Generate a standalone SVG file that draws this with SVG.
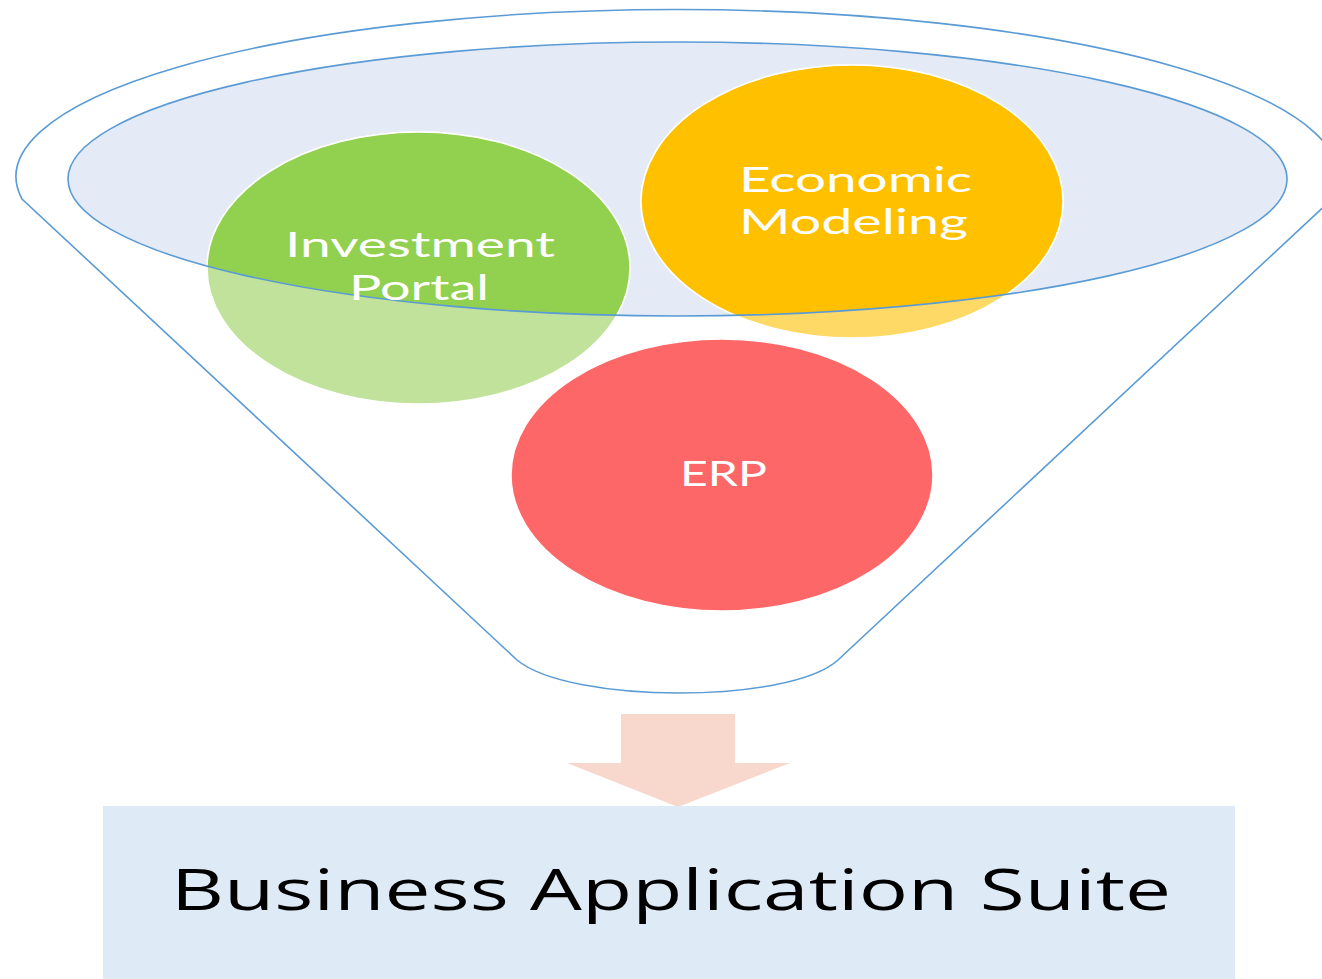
<svg xmlns="http://www.w3.org/2000/svg" width="1322" height="979" viewBox="0 0 1322 979">
<style>
.outline{fill:none;stroke:#5b9bd5;stroke-width:1.6}
.lbl{font-family:Lato,"Liberation Sans",sans-serif;font-size:34.5px;fill:#ffffff}
.big{font-family:"Open Sans","Liberation Sans",sans-serif;font-size:56px;fill:#000000}
.circ{stroke:#ffffff;stroke-width:1.5}
</style>
<defs>
<clipPath id="top">
<ellipse cx="677.5" cy="179" rx="609.5" ry="137"/>
</clipPath>
</defs>
<rect width="1322" height="979" fill="#ffffff"/>
<g id="funnel">
<path class="outline" fill="#ffffff" d="M 517 660 L 22 199 A 661 167 0 1 1 1332 199 L 838 660 C 790 704 570 704 517 660 Z"/>
<ellipse cx="677.5" cy="179" rx="609.5" ry="137" fill="#e4ebf6"/>
</g>
<g id="investment-portal">
<ellipse class="circ" cx="418.5" cy="268" rx="211.5" ry="136" fill="#c0e29a"/>
<ellipse class="circ" cx="418.5" cy="268" rx="211.5" ry="136" fill="#92d050" clip-path="url(#top)"/>
</g>
<g id="economic-modeling">
<ellipse class="circ" cx="852" cy="201.5" rx="211" ry="136.5" fill="#ffd966"/>
<ellipse class="circ" cx="852" cy="201.5" rx="211" ry="136.5" fill="#ffc000" clip-path="url(#top)"/>
</g>
<g id="erp">
<ellipse class="circ" cx="722" cy="475" rx="211" ry="136" fill="#fe6767"/>
</g>
<g id="rim">
<ellipse class="outline" cx="677.5" cy="179" rx="609.5" ry="137"/>
</g>
<g id="labels">
<text class="lbl" x="285" y="257" textLength="270" lengthAdjust="spacingAndGlyphs">Investment</text>
<text class="lbl" x="349" y="300" textLength="140" lengthAdjust="spacingAndGlyphs">Portal</text>
<text class="lbl" x="739" y="192" textLength="233" lengthAdjust="spacingAndGlyphs">Economic</text>
<text class="lbl" x="739" y="234" textLength="229" lengthAdjust="spacingAndGlyphs">Modeling</text>
<text class="lbl" x="680" y="486" textLength="87" lengthAdjust="spacingAndGlyphs">ERP</text>
</g>
<g id="connectors">
<path d="M 621 714 L 735 714 L 735 763 L 790 763 L 678 807 L 567 763 L 621 763 Z" fill="#f8d8cc"/>
</g>
<g id="business-application-suite">
<rect x="103" y="806" width="1132" height="173" fill="#deeaf6"/>
<text class="big" x="171" y="910" textLength="1000" lengthAdjust="spacingAndGlyphs">Business Application Suite</text>
</g>
</svg>
